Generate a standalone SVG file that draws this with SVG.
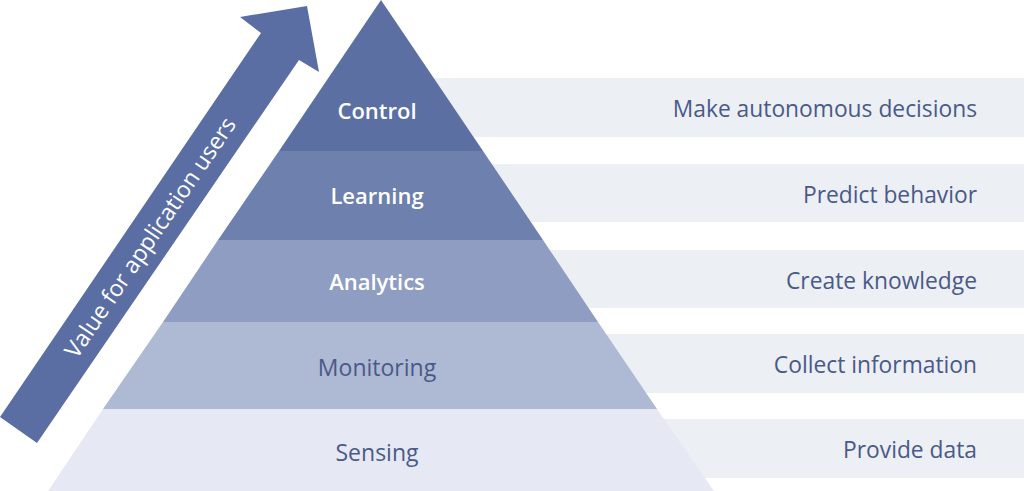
<svg xmlns="http://www.w3.org/2000/svg" width="1024" height="491" viewBox="0 0 1024 491">
<style>
.bar{fill:#eceff4}
.lbl{font-family:"Open Sans","Noto Sans",sans-serif;text-anchor:middle}
.w{fill:#ffffff;font-weight:600;font-size:22px}
.d{fill:#4a5a88;font-size:23px}
.desc{font-family:"Open Sans","Noto Sans",sans-serif;font-size:22.8px;text-anchor:end;fill:#4a5a88}
</style>
<rect width="1024" height="491" fill="#ffffff"/>
<g id="bars">
<rect class="bar" x="380" y="78" width="644" height="59"/>
<rect class="bar" x="380" y="164" width="644" height="58"/>
<rect class="bar" x="380" y="250" width="644" height="58"/>
<rect class="bar" x="380" y="334" width="644" height="59"/>
<rect class="bar" x="380" y="419" width="644" height="59"/>
</g>
<g id="arrow">
<polygon points="0,417 37,443 299,60 319,72 307,6 240,17 261,33" fill="#5a6ea3"/>
<text x="151" y="238" transform="rotate(-55.8 151 238)" dy="7" font-family="'Open Sans','Noto Sans',sans-serif" font-size="23" fill="#ffffff" text-anchor="middle">Value for application users</text>
</g>
<g id="sensing">
<polygon points="103,409 657,409 714,491 48,491" fill="#e6e9f3"/>
<text class="lbl d" x="377" y="461">Sensing</text>
</g>
<g id="monitoring">
<polygon points="163,322 598,322 657,409 103,409" fill="#aeb9d4"/>
<text class="lbl d" x="377" y="376">Monitoring</text>
</g>
<g id="analytics">
<polygon points="218,240 543,240 598,322 163,322" fill="#8e9dc1"/>
<text class="lbl w" x="377" y="290">Analytics</text>
</g>
<g id="learning">
<polygon points="279,151 483,151 543,240 218,240" fill="#6d80ae"/>
<text class="lbl w" x="377" y="204">Learning</text>
</g>
<g id="control">
<polygon points="381,0 483,151 279,151" fill="#5b6fa3"/>
<text class="lbl w" x="377" y="119">Control</text>
</g>
<g id="descriptions">
<text class="desc" x="977" y="117">Make autonomous decisions</text>
<text class="desc" x="977" y="203">Predict behavior</text>
<text class="desc" x="977" y="289">Create knowledge</text>
<text class="desc" x="977" y="373">Collect information</text>
<text class="desc" x="977" y="458">Provide data</text>
</g>
</svg>
